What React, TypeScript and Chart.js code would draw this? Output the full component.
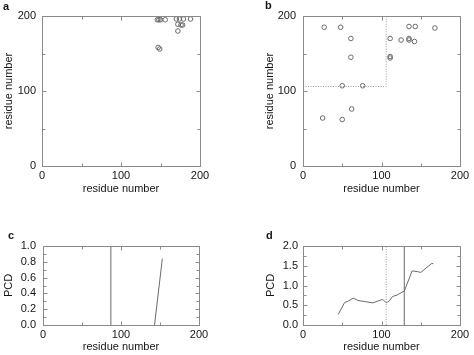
import React, { useEffect, useRef } from 'react';
import { Chart, registerables } from 'chart.js';

Chart.register(...registerables);

// ---------- data ----------
const AXIS_MAX_RES = 200;
const A_X = [146, 148, 150, 156, 170, 174, 179, 188, 172, 176, 178, 172, 147, 149];
const A_Y = [195, 195, 195, 195, 196, 196, 196, 196, 189, 188, 188, 180, 158, 156];

const B_X = [27, 48, 61, 61, 50, 76, 25, 50, 62, 111, 125, 135, 143, 135, 135, 142, 168, 111, 111];
const B_Y = [185, 185, 170, 145, 107, 107, 64, 62, 76, 170, 168, 186, 186, 170, 168, 166, 184, 146, 144];
const B_BOX_X = [0, 106, 106];
const B_BOX_Y = [106, 106, 200];

const C_VLINE_X = [87, 87];
const C_VLINE_Y = [0, 1];
const C_LINE_X = [143, 153];
const C_LINE_Y = [0, 0.84];

const D_X = [45, 53, 57, 64, 70, 80, 89, 100, 102, 106, 110, 114, 120, 129, 132, 139, 146, 150, 164, 166];
const D_Y = [0.27, 0.57, 0.6, 0.68, 0.62, 0.59, 0.56, 0.64, 0.64, 0.56, 0.61, 0.72, 0.76, 0.86, 1.01, 1.37, 1.35, 1.33, 1.56, 1.55];
const D_DOT_X = [106, 106];
const D_SOLID_X = [129, 129];
const D_VLINE_Y = [0, 2];

const X_TITLE = 'residue number';
const Y_TITLE_RES = 'residue number';
const Y_TITLE_PCD = 'PCD';

// ---------- styles ----------
const FONT = "'Liberation Sans', Arial, Helvetica, sans-serif";
const TEXT = '#151515';
const FRAME = '#8a8a8a';
const MARK = '#6a6a6a';

const zip = (xs: number[], ys: number[]) => xs.map((x, i) => ({ x, y: ys[i] }));

function framePlugin() {
  return {
    id: 'frameTicks',
    afterDraw(chart: any) {
      const { ctx, chartArea } = chart;
      const { left, right, top, bottom } = chartArea;
      const xs = chart.scales.x;
      const ys = chart.scales.y;
      ctx.save();
      ctx.strokeStyle = FRAME;
      ctx.lineWidth = 1;
      ctx.setLineDash([]);
      const L = Math.round(left) + 0.5;
      const R = Math.round(right) + 0.5;
      const T = Math.round(top) + 0.5;
      const B = Math.round(bottom) + 0.5;
      ctx.strokeRect(L, T, R - L, B - T);
      ctx.beginPath();
      xs.ticks.forEach((t: any) => {
        const p = Math.round(xs.getPixelForValue(t.value)) + 0.5;
        const len = t.label ? 4 : 3;
        ctx.moveTo(p, B); ctx.lineTo(p, B - len);
        ctx.moveTo(p, T); ctx.lineTo(p, T + len);
      });
      ys.ticks.forEach((t: any) => {
        const p = Math.round(ys.getPixelForValue(t.value)) + 0.5;
        const len = t.label ? 4 : 3;
        ctx.moveTo(L, p); ctx.lineTo(L + len, p);
        ctx.moveTo(R, p); ctx.lineTo(R - len, p);
      });
      ctx.stroke();
      ctx.restore();
    },
  };
}

function xScale(height: number, titleBottom: number) {
  return {
    type: 'linear',
    min: 0,
    max: AXIS_MAX_RES,
    grid: { display: false, drawTicks: false },
    border: { display: false },
    ticks: {
      stepSize: 50,
      autoSkip: false,
      maxRotation: 0,
      padding: 3,
      color: TEXT,
      font: { family: FONT, size: 11 },
      callback: (v: number) => (v % 100 === 0 ? String(v) : ''),
    },
    title: {
      display: true,
      text: X_TITLE,
      color: TEXT,
      font: { family: FONT, size: 11 },
      padding: { top: 0, bottom: titleBottom },
    },
    afterFit: (s: any) => { s.height = height; },
  };
}

function yScale(kind: 'res' | 'c' | 'd', width: number, tickPad: number, titlePad: number) {
  const base: any = {
    type: 'linear',
    grid: { display: false, drawTicks: false },
    border: { display: false },
    ticks: {
      autoSkip: false,
      padding: tickPad,
      color: TEXT,
      font: { family: FONT, size: 11 },
    },
    title: {
      display: true,
      text: kind === 'res' ? Y_TITLE_RES : Y_TITLE_PCD,
      color: TEXT,
      font: { family: FONT, size: 11 },
      padding: { top: titlePad, bottom: 0 },
    },
    afterFit: (s: any) => { s.width = width; },
  };
  if (kind === 'res') {
    base.min = 0; base.max = 200; base.ticks.stepSize = 50;
    base.ticks.callback = (v: number) => (v % 100 === 0 ? String(v) : '');
  } else if (kind === 'c') {
    base.min = 0; base.max = 1; base.ticks.stepSize = 0.1;
    base.ticks.callback = (v: number) => (Math.round(v * 10) % 2 === 0 ? v.toFixed(1) : '');
  } else {
    base.min = 0; base.max = 2; base.ticks.stepSize = 0.25;
    base.ticks.callback = (v: number) => (Math.round(v * 4) % 2 === 0 ? v.toFixed(1) : '');
  }
  return base;
}

const pointSet = (xs: number[], ys: number[]) => ({
  data: zip(xs, ys),
  showLine: false,
  pointRadius: 2.3,
  pointBorderWidth: 1,
  pointBackgroundColor: 'rgba(0,0,0,0)',
  pointBorderColor: MARK,
});

const lineSet = (xs: number[], ys: number[], color: string, dash: number[] = []) => ({
  data: zip(xs, ys),
  showLine: true,
  pointRadius: 0,
  borderColor: color,
  borderWidth: 1,
  borderDash: dash,
  tension: 0,
});

type PanelDef = {
  left: number; top: number; width: number; height: number;
  datasets: any[];
  padding: any;
  x: any; y: any;
};

function Panel({ def }: { def: PanelDef }) {
  const ref = useRef<HTMLCanvasElement | null>(null);
  useEffect(() => {
    if (!ref.current) return;
    const chart = new Chart(ref.current, {
      type: 'scatter',
      data: { datasets: def.datasets },
      options: {
        responsive: false,
        animation: false,
        devicePixelRatio: 1,
        layout: { padding: def.padding },
        plugins: { legend: { display: false }, tooltip: { enabled: false } },
        scales: { x: def.x, y: def.y },
      } as any,
      plugins: [framePlugin()],
    });
    return () => chart.destroy();
  }, [def]);
  return (
    <canvas
      ref={ref}
      width={def.width}
      height={def.height}
      style={{ position: 'absolute', left: def.left, top: def.top, width: def.width, height: def.height }}
    />
  );
}

const PANELS: PanelDef[] = [
  {
    left: 0, top: 0, width: 237, height: 200,
    datasets: [pointSet(A_X, A_Y)],
    padding: { left: 0, top: 16, right: 37, bottom: 0 },
    x: xScale(34, 4), y: yScale('res', 42, 6, 2),
  },
  {
    left: 237, top: 0, width: 237, height: 200,
    datasets: [lineSet(B_BOX_X, B_BOX_Y, '#9a9a9a', [1, 1.5]), pointSet(B_X, B_Y)],
    padding: { left: 24, top: 16, right: 14, bottom: 0 },
    x: xScale(34, 4), y: yScale('res', 42, 7, 2),
  },
  {
    left: 0, top: 200, width: 237, height: 155,
    datasets: [lineSet(C_VLINE_X, C_VLINE_Y, MARK), lineSet(C_LINE_X, C_LINE_Y, MARK)],
    padding: { left: 0, top: 46, right: 38, bottom: 0 },
    x: xScale(30, 1), y: yScale('c', 43, 7, 2),
  },
  {
    left: 237, top: 200, width: 237, height: 155,
    datasets: [
      lineSet(D_DOT_X, D_VLINE_Y, '#9a9a9a', [1, 1.5]),
      lineSet(D_SOLID_X, D_VLINE_Y, MARK),
      lineSet(D_X, D_Y, MARK),
    ],
    padding: { left: 24, top: 46, right: 14, bottom: 0 },
    x: xScale(30, 1), y: yScale('d', 42, 5, 3),
  },
];

const LETTERS = [
  { t: 'a', left: 3, top: 1 },
  { t: 'b', left: 265, top: 0 },
  { t: 'c', left: 8, top: 230 },
  { t: 'd', left: 266, top: 230 },
];

export default function App() {
  return (
    <div style={{ position: 'fixed', left: 0, top: 0, width: 474, height: 355, background: '#fff', overflow: 'hidden' }}>
      {PANELS.map((p, i) => <Panel key={i} def={p} />)}
      {LETTERS.map((l) => (
        <div
          key={l.t}
          style={{
            position: 'absolute', left: l.left, top: l.top,
            font: `bold 11px ${FONT}`, lineHeight: '11px', color: TEXT,
          }}
        >
          {l.t}
        </div>
      ))}
    </div>
  );
}
